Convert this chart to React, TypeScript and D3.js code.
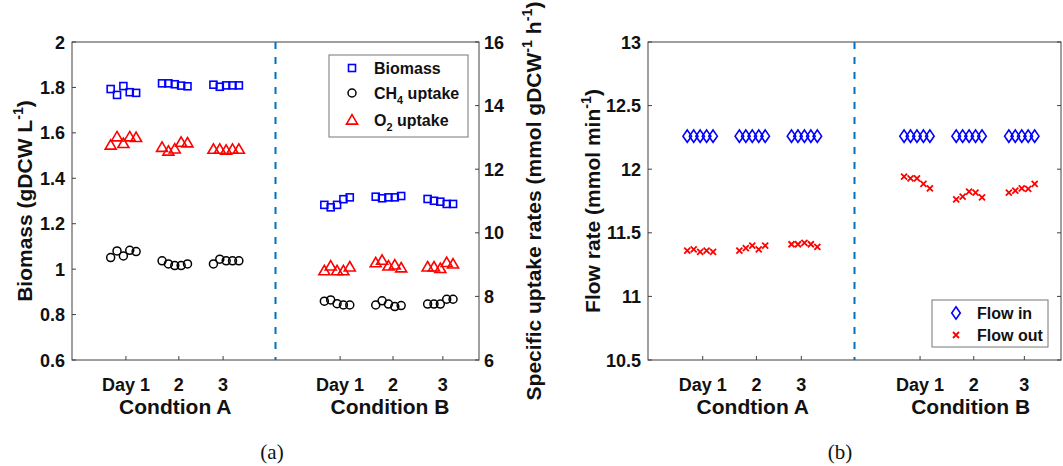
import React, { useRef, useEffect } from 'react';
import * as d3 from 'd3';

// x layout (days on a 0..8 axis, dashed separator at 4)
const tickPositions = [1.06, 2.1, 2.97, 5.27, 6.31, 7.29];
const tickLabels = ['Day 1', '2', '3', 'Day 1', '2', '3'];
const groupCenters = [1.01, 2.02, 3.03, 5.21, 6.22, 7.24];
const sampleOffsets = [-0.25, -0.125, 0, 0.125, 0.25];
const conditions = ['Condtion A', 'Condition B'];
const conditionCenters = [2.03, 6.25];

// panel (a)
const biomassTicks = [0.6, 0.8, 1, 1.2, 1.4, 1.6, 1.8, 2];
const uptakeTicks = [6, 8, 10, 12, 14, 16];
const biomass = [
  [1.793, 1.767, 1.806, 1.779, 1.776],
  [1.818, 1.818, 1.814, 1.808, 1.805],
  [1.812, 1.803, 1.809, 1.809, 1.809],
  [1.283, 1.272, 1.283, 1.308, 1.316],
  [1.319, 1.312, 1.316, 1.316, 1.322],
  [1.309, 1.301, 1.297, 1.287, 1.287],
];
const ch4Uptake = [
  [9.22, 9.43, 9.27, 9.45, 9.41],
  [9.12, 9.02, 8.97, 8.97, 9.02],
  [9.02, 9.17, 9.12, 9.12, 9.12],
  [7.85, 7.89, 7.77, 7.73, 7.73],
  [7.73, 7.86, 7.76, 7.68, 7.71],
  [7.76, 7.76, 7.76, 7.91, 7.91],
];
const o2Uptake = [
  [12.76, 13.02, 12.81, 13.02, 13.0],
  [12.69, 12.57, 12.64, 12.85, 12.83],
  [12.63, 12.63, 12.6, 12.63, 12.63],
  [8.81, 8.96, 8.81, 8.81, 8.93],
  [9.06, 9.14, 8.96, 8.99, 8.9],
  [8.93, 8.93, 8.88, 9.07, 9.02],
];

// panel (b)
const flowTicks = [10.5, 11, 11.5, 12, 12.5, 13];
const flowIn = [
  [12.26, 12.26, 12.26, 12.26, 12.26],
  [12.26, 12.26, 12.26, 12.26, 12.26],
  [12.26, 12.26, 12.26, 12.26, 12.26],
  [12.26, 12.26, 12.26, 12.26, 12.26],
  [12.26, 12.26, 12.26, 12.26, 12.26],
  [12.26, 12.26, 12.26, 12.26, 12.26],
];
const flowOut = [
  [11.36, 11.37, 11.35, 11.36, 11.35],
  [11.36, 11.38, 11.4, 11.37, 11.4],
  [11.41, 11.41, 11.42, 11.41, 11.39],
  [11.941, 11.928, 11.928, 11.884, 11.85],
  [11.763, 11.784, 11.823, 11.815, 11.779],
  [11.815, 11.831, 11.85, 11.845, 11.884],
];

const FONT = '"Liberation Sans", Arial, sans-serif';
const AXIS = '#404040';
const DASH = '#0072BD';
const LABEL_SIZE = 21;

const toPoints = (groups) =>
  groups.flatMap((g, gi) => g.map((v, i) => ({ x: groupCenters[gi] + sampleOffsets[i], y: v })));

// text with tex-like sub/superscripts
function richText(sel, parts, size) {
  let shift = 0;
  parts.forEach(p => {
    const target = p.sup ? -size * 0.42 : p.sub ? size * 0.32 : 0;
    sel.append('tspan')
      .attr('dy', target - shift)
      .attr('font-size', p.sup || p.sub ? size * 0.68 : size)
      .text(p.t);
    shift = target;
  });
}

const markers = {
  square: (g, c) => g.append('rect').attr('x', -3.5).attr('y', -3.5).attr('width', 7).attr('height', 7)
    .attr('fill', 'none').attr('stroke', c).attr('stroke-width', 1.6),
  circle: (g, c) => g.append('circle').attr('r', 4).attr('fill', 'none').attr('stroke', c).attr('stroke-width', 1.5),
  triangle: (g, c) => g.append('path').attr('d', 'M0,-5.3L5.5,4.1L-5.5,4.1Z').attr('fill', 'none')
    .attr('stroke', c).attr('stroke-width', 1.6).attr('stroke-linejoin', 'miter'),
  diamond: (g, c) => g.append('path').attr('d', 'M0,-6.2L4.3,0L0,6.2L-4.3,0Z').attr('fill', 'none')
    .attr('stroke', c).attr('stroke-width', 1.6),
  cross: (g, c) => g.append('path').attr('d', 'M-3,-3L3,3M-3,3L3,-3').attr('fill', 'none')
    .attr('stroke', c).attr('stroke-width', 1.8),
};

const App = () => {
  const ref = useRef(null);

  useEffect(() => {
    const root = d3.select(ref.current);
    root.selectAll('*').remove();

    const svg = root.append('svg')
      .attr('width', 1063)
      .attr('height', 466)
      .style('position', 'absolute')
      .style('left', 0)
      .style('top', 0)
      .style('background', '#fff')
      .attr('font-family', FONT);

    const top = 42, bottom = 360, tl = 4;

    const drawFrame = (x, yLeft, yRight, leftTicks, rightTicks, leftFmt, rightFmt) => {
      const [x0, x1] = x.range();
      const g = svg.append('g');
      g.append('rect').attr('x', x0).attr('y', top).attr('width', x1 - x0).attr('height', bottom - top)
        .attr('fill', 'none').attr('stroke', AXIS).attr('stroke-width', 1);

      // dashed separator
      g.append('line').attr('x1', x(4)).attr('x2', x(4)).attr('y1', top).attr('y2', bottom)
        .attr('stroke', DASH).attr('stroke-width', 2).attr('stroke-dasharray', '7,8');

      // y ticks left
      leftTicks.forEach(t => {
        g.append('line').attr('x1', x0).attr('x2', x0 + tl).attr('y1', yLeft(t)).attr('y2', yLeft(t)).attr('stroke', AXIS);
        g.append('text').attr('x', x0 - 7).attr('y', yLeft(t) + 6.5).attr('text-anchor', 'end')
          .attr('font-size', 18).attr('font-weight', 'bold').attr('fill', '#111').text(leftFmt(t));
      });
      if (yRight) {
        rightTicks.forEach(t => {
          g.append('line').attr('x1', x1).attr('x2', x1 - tl).attr('y1', yRight(t)).attr('y2', yRight(t)).attr('stroke', AXIS);
          g.append('text').attr('x', x1 + 5).attr('y', yRight(t) + 6.5).attr('text-anchor', 'start')
            .attr('font-size', 18).attr('font-weight', 'bold').attr('fill', '#111').text(rightFmt(t));
        });
      } else {
        leftTicks.forEach(t => {
          g.append('line').attr('x1', x1).attr('x2', x1 - tl).attr('y1', yLeft(t)).attr('y2', yLeft(t)).attr('stroke', AXIS);
        });
      }

      // x ticks
      tickPositions.forEach((t, i) => {
        g.append('line').attr('x1', x(t)).attr('x2', x(t)).attr('y1', bottom).attr('y2', bottom - tl).attr('stroke', AXIS);
        g.append('text').attr('x', x(t)).attr('y', 391).attr('text-anchor', 'middle')
          .attr('font-size', 18).attr('font-weight', 'bold').attr('fill', '#111').text(tickLabels[i]);
      });
      conditions.forEach((c, i) => {
        g.append('text').attr('x', x(conditionCenters[i])).attr('y', 414).attr('text-anchor', 'middle')
          .attr('font-size', LABEL_SIZE).attr('font-weight', 'bold').attr('fill', '#111').text(c);
      });
    };

    const plotSeries = (x, y, groups, kind, color) => {
      const g = svg.append('g');
      toPoints(groups).forEach(p => {
        const m = g.append('g').attr('transform', `translate(${x(p.x)},${y(p.y)})`);
        markers[kind](m, color);
      });
    };

    const yLabel = (cx, parts) => {
      const t = svg.append('text').attr('transform', `translate(${cx},${(top + bottom) / 2}) rotate(-90)`)
        .attr('text-anchor', 'middle').attr('font-size', LABEL_SIZE).attr('font-weight', 'bold').attr('fill', '#111');
      richText(t, parts, LABEL_SIZE);
    };

    const legend = (bx, by, bw, bh, items, mx, tx) => {
      const g = svg.append('g');
      g.append('rect').attr('x', bx).attr('y', by).attr('width', bw).attr('height', bh)
        .attr('fill', '#fff').attr('stroke', '#777').attr('stroke-width', 1);
      items.forEach(it => {
        const m = g.append('g').attr('transform', `translate(${mx},${it.y})`);
        markers[it.kind](m, it.color);
        const t = g.append('text').attr('x', tx).attr('y', it.y + 6).attr('font-size', 16)
          .attr('font-weight', 'bold').attr('fill', '#111');
        richText(t, it.parts, 16);
      });
    };

    // ----- panel (a)
    const xA = d3.scaleLinear().domain([0, 8]).range([72, 479]);
    const yBio = d3.scaleLinear().domain([0.6, 2]).range([bottom, top]);
    const yUp = d3.scaleLinear().domain([6, 16]).range([bottom, top]);
    drawFrame(xA, yBio, yUp, biomassTicks, uptakeTicks, d3.format('~g'), d3.format('~g'));
    plotSeries(xA, yBio, biomass, 'square', '#0000ff');
    plotSeries(xA, yUp, ch4Uptake, 'circle', '#000');
    plotSeries(xA, yUp, o2Uptake, 'triangle', '#ff0000');
    yLabel(32, [{ t: 'Biomass (gDCW L' }, { t: '-1', sup: true }, { t: ')' }]);
    yLabel(541, [{ t: 'Specific uptake rates (mmol gDCW' }, { t: '-1', sup: true }, { t: ' h' }, { t: '-1', sup: true }, { t: ')' }]);
    legend(329, 55, 139, 82, [
      { kind: 'square', color: '#0000ff', y: 68, parts: [{ t: 'Biomass' }] },
      { kind: 'circle', color: '#000', y: 93, parts: [{ t: 'CH' }, { t: '4', sub: true }, { t: ' uptake' }] },
      { kind: 'triangle', color: '#ff0000', y: 120, parts: [{ t: 'O' }, { t: '2', sub: true }, { t: ' uptake' }] },
    ], 352, 374);

    // ----- panel (b)
    const xB = d3.scaleLinear().domain([0, 8]).range([648, 1061]);
    const yFlow = d3.scaleLinear().domain([10.5, 13]).range([bottom, top]);
    drawFrame(xB, yFlow, null, flowTicks, [], d3.format('~g'), null);
    plotSeries(xB, yFlow, flowIn, 'diamond', '#0000ff');
    plotSeries(xB, yFlow, flowOut, 'cross', '#ff0000');
    yLabel(600, [{ t: 'Flow rate (mmol min' }, { t: '-1', sup: true }, { t: ')' }]);
    legend(932, 300, 116, 47, [
      { kind: 'diamond', color: '#0000ff', y: 313, parts: [{ t: 'Flow in' }] },
      { kind: 'cross', color: '#ff0000', y: 335, parts: [{ t: 'Flow out' }] },
    ], 956, 977);

    // captions
    [['(a)', 272], ['(b)', 840]].forEach(([s, cx]) => {
      svg.append('text').attr('x', cx).attr('y', 459).attr('text-anchor', 'middle')
        .attr('font-family', '"Liberation Serif", "Times New Roman", serif').attr('font-size', 21)
        .attr('fill', '#111').text(s);
    });
  }, []);

  return <div ref={ref} />;
};

export default App;
